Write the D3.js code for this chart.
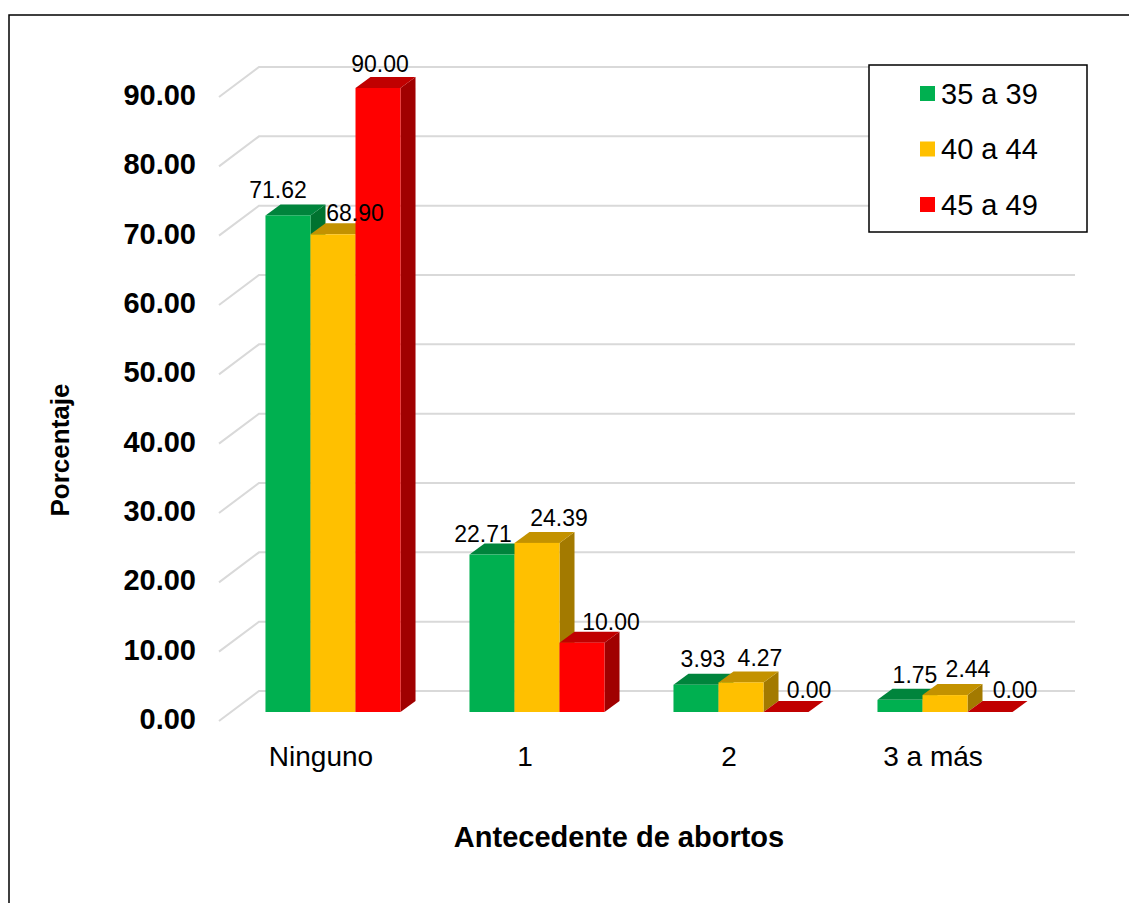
<!DOCTYPE html>
<html>
<head>
<meta charset="utf-8">
<script src="https://cdn.jsdelivr.net/npm/d3@7"></script>
<style>
  html, body { margin: 0; padding: 0; background: #fff; }
  svg text { font-family: "Liberation Sans", Arial, sans-serif; fill: #000; }
</style>
</head>
<body>
<svg id="chart" width="1129" height="903"></svg>
<script>
// -----------------------------
// Data
// -----------------------------
const categories = ["Ninguno", "1", "2", "3 a más"];
const seriesNames = ["35 a 39", "40 a 44", "45 a 49"];
const values35a39 = [71.62, 22.71, 3.93, 1.75];
const values40a44 = [68.90, 24.39, 4.27, 2.44];
const values45a49 = [90.00, 10.00, 0.00, 0.00];
const yTicks = [0, 10, 20, 30, 40, 50, 60, 70, 80, 90];

// -----------------------------
// Styling
// -----------------------------
const frontColors = ["#00B050", "#FFC000", "#FF0000"];
const topColors = ["#00843C", "#C39200", "#C00000"];
const sideColors = ["#00722F", "#A37A00", "#A00000"];

// label nudges (Excel places 3D labels a bit off-centre), per series x category
const labelDx = [[-10, -9, 7, 15], [22, 22, 19, 23], [2, 29, 23, 25]];
const labelDy = [[-6, -2, -7, -6], [-2, -6, -5, -7], [-5, -2, -3, -3]];

const svg = d3.select("#chart");

// 3D geometry: wall depth and bar depth
const wallDx = 40, wallDy = -30;
const barOffX = 12, barOffY = -9;
const barDx = 15, barDy = -11;

const x = d3.scaleBand()
  .domain(categories)
  .range([219, 1035])
  .paddingInner(0.338)
  .paddingOuter(0.169);

const xs = d3.scaleBand()
  .domain(seriesNames)
  .range([0, x.bandwidth()])
  .padding(0);

const y = d3.scaleLinear()
  .domain([0, 90])
  .range([721, 97]);

// -----------------------------
// Outer frame
// -----------------------------
svg.append("rect")
  .attr("x", 9).attr("y", 15)
  .attr("width", 1140).attr("height", 920)
  .attr("fill", "none")
  .attr("stroke", "#000")
  .attr("stroke-width", 1.5);

// -----------------------------
// Gridlines (front diagonal + back wall)
// -----------------------------
svg.append("g")
  .selectAll("path")
  .data(yTicks)
  .join("path")
  .attr("d", t => `M219,${y(t)} L${219 + wallDx},${y(t) + wallDy} L1075,${y(t) + wallDy}`)
  .attr("fill", "none")
  .attr("stroke", "#D9D9D9")
  .attr("stroke-width", 2);

// Y tick labels
svg.append("g")
  .selectAll("text")
  .data(yTicks)
  .join("text")
  .attr("x", 196)
  .attr("y", t => y(t) + 8)
  .attr("text-anchor", "end")
  .style("font-size", "29px")
  .style("font-weight", "bold")
  .text(d3.format(".2f"));

// -----------------------------
// Bars
// -----------------------------
const allSeries = [values35a39, values40a44, values45a49];
const bars = [];
categories.forEach((c, ci) => {
  seriesNames.forEach((s, si) => {
    bars.push({ cat: c, ci, si, value: allSeries[si][ci] });
  });
});

const base = y(0) + barOffY;
const bw = xs.bandwidth();

const barG = svg.append("g")
  .selectAll("g")
  .data(bars)
  .join("g");

barG.each(function(d) {
  const g = d3.select(this);
  const x0 = x(d.cat) + barOffX + xs(seriesNames[d.si]);
  const x1 = x0 + bw;
  const yt = y(d.value) + barOffY;
  d.x0 = x0; d.x1 = x1; d.yt = yt;

  if (base - yt > 0) {
    g.append("path")
      .attr("d", `M${x1},${yt} L${x1 + barDx},${yt + barDy} L${x1 + barDx},${base + barDy} L${x1},${base} Z`)
      .attr("fill", sideColors[d.si]);
  }
  g.append("path")
    .attr("d", `M${x0},${yt} L${x1},${yt} L${x1 + barDx},${yt + barDy} L${x0 + barDx},${yt + barDy} Z`)
    .attr("fill", topColors[d.si]);
  if (base - yt > 0) {
    g.append("rect")
      .attr("x", x0).attr("y", yt)
      .attr("width", bw).attr("height", base - yt)
      .attr("fill", frontColors[d.si]);
  }
});

// Value labels
svg.append("g")
  .selectAll("text")
  .data(bars)
  .join("text")
  .attr("x", d => (d.x0 + d.x1) / 2 + labelDx[d.si][d.ci])
  .attr("y", d => d.yt + barDy + labelDy[d.si][d.ci])
  .attr("text-anchor", "middle")
  .style("font-size", "23px")
  .text(d => d3.format(".2f")(d.value));

// Category labels
svg.append("g")
  .selectAll("text")
  .data(categories)
  .join("text")
  .attr("x", c => x(c) + x.bandwidth() / 2)
  .attr("y", 766)
  .attr("text-anchor", "middle")
  .style("font-size", "28px")
  .text(c => c);

// Axis titles
svg.append("text")
  .attr("x", 619)
  .attr("y", 847)
  .attr("text-anchor", "middle")
  .style("font-size", "29px")
  .style("font-weight", "bold")
  .text("Antecedente de abortos");

svg.append("text")
  .attr("transform", "translate(69,450) rotate(-90)")
  .attr("text-anchor", "middle")
  .style("font-size", "26px")
  .style("font-weight", "bold")
  .text("Porcentaje");

// -----------------------------
// Legend
// -----------------------------
const legend = svg.append("g");
legend.append("rect")
  .attr("x", 869).attr("y", 65)
  .attr("width", 218).attr("height", 167)
  .attr("fill", "#fff")
  .attr("stroke", "#000")
  .attr("stroke-width", 1.5);

const rows = legend.selectAll("g.row")
  .data(seriesNames)
  .join("g")
  .attr("class", "row")
  .attr("transform", (d, i) => `translate(920, ${93.5 + i * 55.5})`);

rows.append("rect")
  .attr("x", 0).attr("y", -7.5)
  .attr("width", 15).attr("height", 15)
  .attr("fill", (d, i) => frontColors[i]);

rows.append("text")
  .attr("x", 21)
  .attr("y", 10)
  .style("font-size", "29px")
  .text(d => d);
</script>
</body>
</html>
